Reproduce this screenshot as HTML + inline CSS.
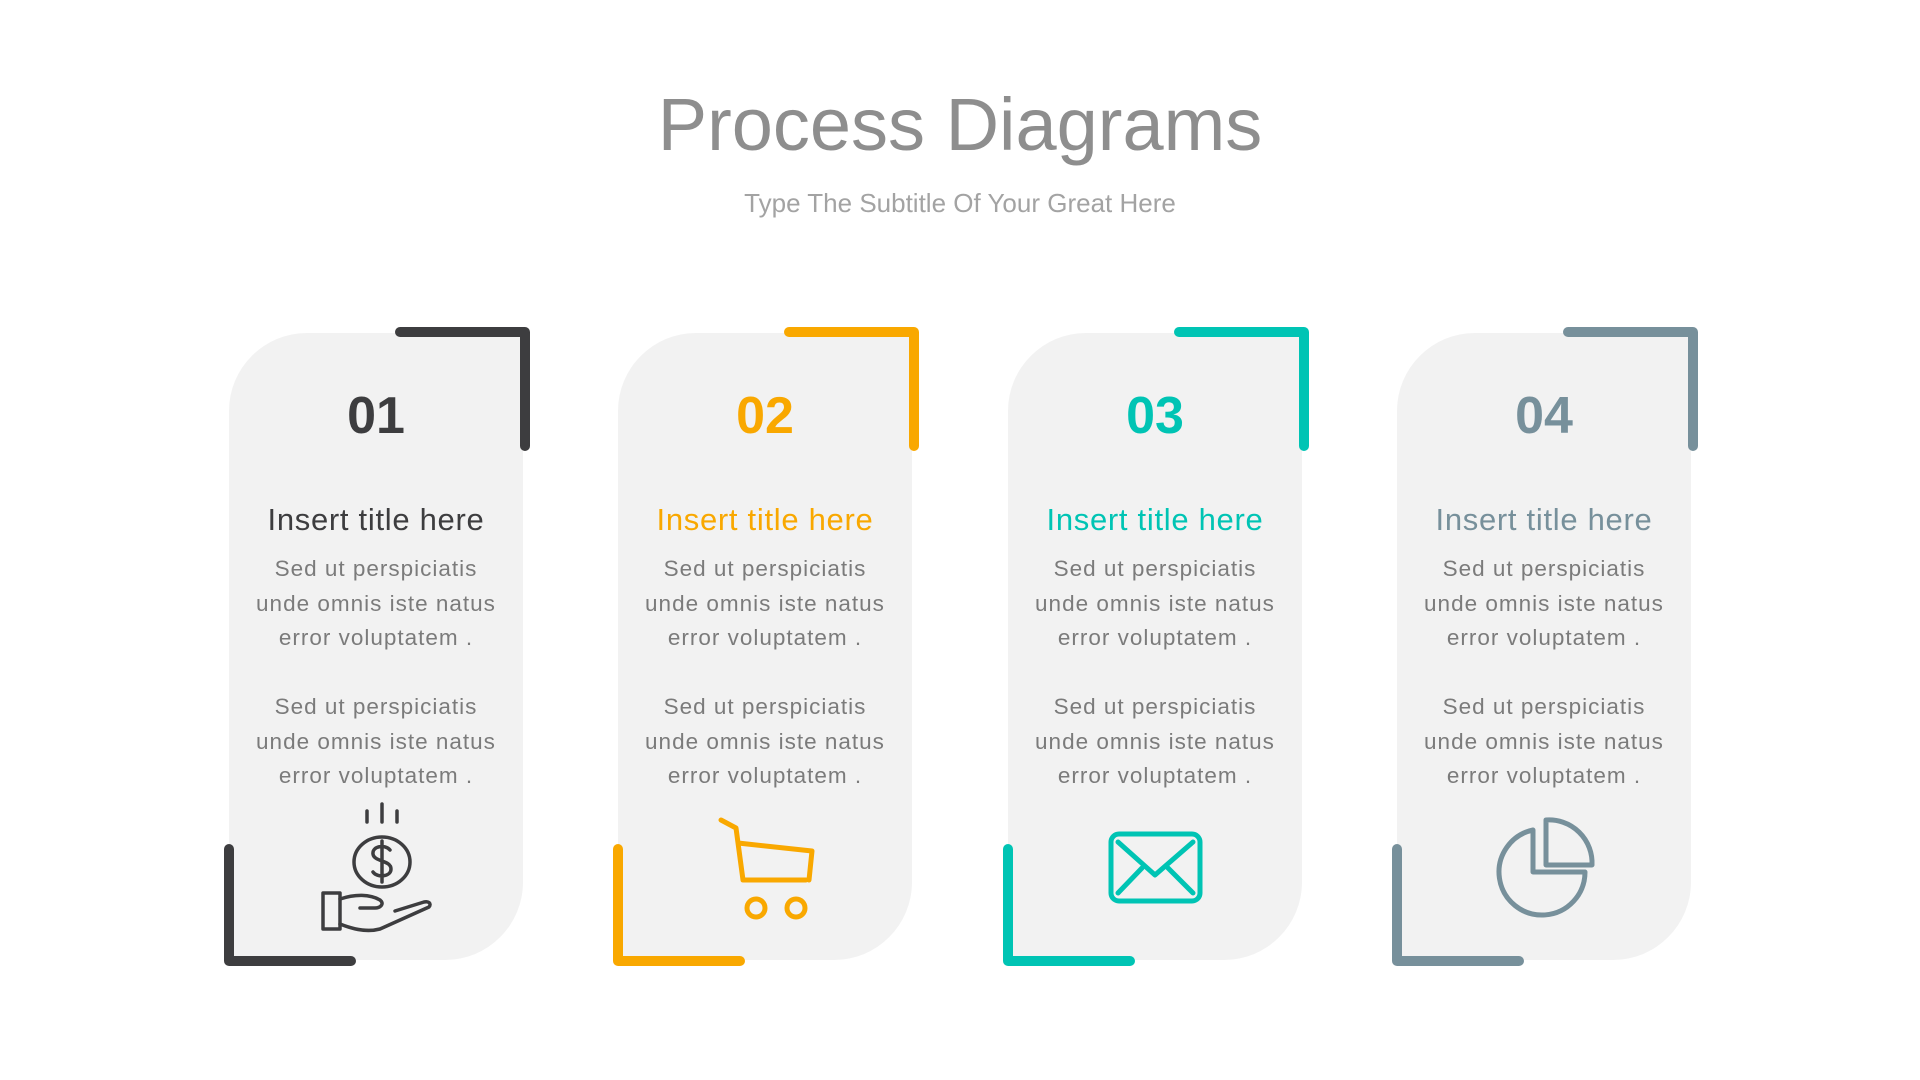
<!DOCTYPE html>
<html><head><meta charset="utf-8"><style>
*{margin:0;padding:0;box-sizing:border-box}
body{width:1920px;height:1080px;background:#fff;position:relative;overflow:hidden;font-family:"Liberation Sans",sans-serif}
.h1{position:absolute;left:0;width:1920px;top:80px;text-align:center;font-size:74px;color:#8e8e8e;line-height:90px}
.h2{position:absolute;left:0;width:1920px;top:186px;text-align:center;font-size:26px;color:#a3a3a3;line-height:34px}
.card{position:absolute;top:333px;width:294px;height:627px;background:#f2f2f2;border-radius:78px 0 78px 0}
.num{position:absolute;top:384px;width:294px;text-align:center;font-size:52px;font-weight:bold;line-height:64px}
.tt{position:absolute;top:500px;width:294px;text-align:center;font-size:31px;line-height:40px;letter-spacing:0.7px}
.bd{position:absolute;top:552px;width:294px;text-align:center;font-size:22.5px;line-height:34.5px;color:#7b7b7b;letter-spacing:1px}
svg.br{position:absolute;left:0;top:0}
</style></head><body>
<div class="h1">Process Diagrams</div>
<div class="h2">Type The Subtitle Of Your Great Here</div>

<div class="card" style="left:229px"></div>
<div class="card" style="left:618px"></div>
<div class="card" style="left:1008px"></div>
<div class="card" style="left:1397px"></div>

<svg class="br" width="1920" height="1080" fill="none" stroke-width="10" stroke-linecap="round" stroke-linejoin="round">
<g stroke="#3d3d3f"><path d="M400 332 H525 V446"/><path d="M229 849 V961 H351"/></g>
<g stroke="#f9a800"><path d="M789 332 H914 V446"/><path d="M618 849 V961 H740"/></g>
<g stroke="#00c4b4"><path d="M1179 332 H1304 V446"/><path d="M1008 849 V961 H1130"/></g>
<g stroke="#77909b"><path d="M1568 332 H1693 V446"/><path d="M1397 849 V961 H1519"/></g>
</svg>

<div class="num" style="left:229px;color:#3d3d3f">01</div>
<div class="num" style="left:618px;color:#f9a800">02</div>
<div class="num" style="left:1008px;color:#00c4b4">03</div>
<div class="num" style="left:1397px;color:#77909b">04</div>

<div class="tt" style="left:229px;color:#3d3d3f">Insert title here</div>
<div class="tt" style="left:618px;color:#f9a800">Insert title here</div>
<div class="tt" style="left:1008px;color:#00c4b4">Insert title here</div>
<div class="tt" style="left:1397px;color:#77909b">Insert title here</div>

<div class="bd" style="left:229px">Sed ut perspiciatis<br>unde omnis iste natus<br>error voluptatem .<br><br>Sed ut perspiciatis<br>unde omnis iste natus<br>error voluptatem .</div>
<div class="bd" style="left:618px">Sed ut perspiciatis<br>unde omnis iste natus<br>error voluptatem .<br><br>Sed ut perspiciatis<br>unde omnis iste natus<br>error voluptatem .</div>
<div class="bd" style="left:1008px">Sed ut perspiciatis<br>unde omnis iste natus<br>error voluptatem .<br><br>Sed ut perspiciatis<br>unde omnis iste natus<br>error voluptatem .</div>
<div class="bd" style="left:1397px">Sed ut perspiciatis<br>unde omnis iste natus<br>error voluptatem .<br><br>Sed ut perspiciatis<br>unde omnis iste natus<br>error voluptatem .</div>

<svg class="br" width="1920" height="1080" fill="none" stroke-linecap="round" stroke-linejoin="round">
<g stroke="#3d3d3f" stroke-width="3.5">
<path d="M382 804 V822 M367 811 V822 M397 811 V822"/>
<ellipse cx="382" cy="862" rx="28" ry="25"/>
<path d="M390 850 C385 844 372 846 373 854 C374 862 391 860 391 869 C391 877 377 878 373 872 M382 841 V882"/>
<path d="M323 893 H340 V929 H323 Z"/>
<path d="M340 899 C355 894 370 894 380 900 C385 904 380 908 375 908 H360 M340 924 C350 928 365 933 380 929 L429 907 C432 903 428 901 424 902 L395 911"/>
</g>
<g stroke="#f9a800" stroke-width="5">
<path d="M721 820 L736 828 L743 880 H806 M738 843 L812 851 L809 880"/>
<circle cx="756" cy="908" r="9"/><circle cx="796" cy="908" r="9"/>
</g>
<g stroke="#00c4b4" stroke-width="5">
<rect x="1111" y="834" width="89" height="67" rx="8"/>
<path d="M1118 842 L1155 875 L1193 842 M1118 893 L1142 868 M1193 893 L1168 868"/>
</g>
<g stroke="#77909b" stroke-width="5">
<path d="M1533 830 A43 43 0 1 0 1585 872 H1533 Z"/>
<path d="M1546 820 A43 43 0 0 1 1592 865 H1546 Z"/>
</g>
</svg>
</body></html>
